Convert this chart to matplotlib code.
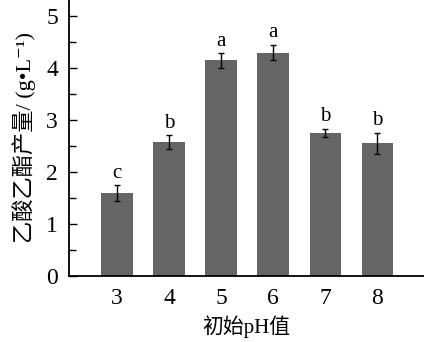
import matplotlib
matplotlib.use("Agg")
import matplotlib.pyplot as plt
from matplotlib.ticker import MultipleLocator

plt.rcParams['font.family'] = ['Liberation Serif', 'Noto Sans CJK SC', 'DejaVu Serif']

ph = [3, 4, 5, 6, 7, 8]
yield_ea = [1.59, 2.57, 4.14, 4.29, 2.75, 2.55]
err = [0.15, 0.13, 0.14, 0.15, 0.08, 0.20]
letters = ['c', 'b', 'a', 'a', 'b', 'b']

fig = plt.figure(figsize=(4.24, 3.42), dpi=100)
ax = fig.add_axes([0.163, 0.193, 0.837, 0.807])

ax.bar(ph, yield_ea, width=0.6, color='#656565', yerr=err,
       error_kw=dict(ecolor='black', elinewidth=1.0, capsize=2.5, capthick=1.0))
for x, y, e, t in zip(ph, yield_ea, err, letters):
    ax.text(x, y + e + 0.05, t, ha='center', va='bottom', fontsize=15)

ax.set_xlim(2.08, 8.9)
ax.set_ylim(0, 5.3)
ax.set_xticks(ph)
ax.yaxis.set_major_locator(MultipleLocator(1))
ax.yaxis.set_minor_locator(MultipleLocator(0.5))
ax.tick_params(axis='y', which='major', direction='in', length=6, width=1, labelsize=17, pad=8)
ax.tick_params(axis='y', which='minor', direction='in', length=5, width=1)
ax.tick_params(axis='x', length=0, labelsize=17, pad=9)

ax.spines['top'].set_visible(False)
ax.spines['right'].set_visible(False)
ax.spines['left'].set_linewidth(1.3)
ax.spines['bottom'].set_linewidth(1.3)

ax.set_xlabel('初始pH值', fontsize=15, labelpad=4)
ax.set_ylabel('乙酸乙酯产量/ (g•L⁻¹)', fontsize=16, labelpad=7)

fig.savefig('out.png', dpi=100)
